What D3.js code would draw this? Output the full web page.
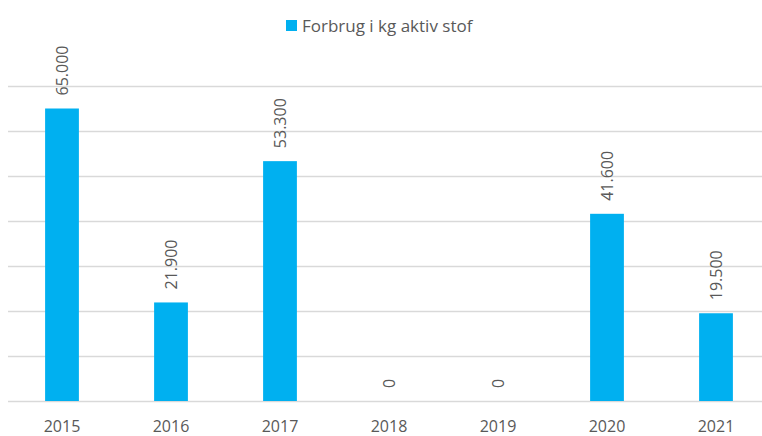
<!DOCTYPE html>
<html>
<head>
<meta charset="utf-8">
<script src="https://cdn.jsdelivr.net/npm/d3@7"></script>
<style>
  html, body { margin: 0; padding: 0; background: #fff; }
  svg { display: block; font-family: "Open Sans", sans-serif; }
</style>
</head>
<body>
<svg id="chart" width="762" height="436"></svg>
<script>
const years = ["2015", "2016", "2017", "2018", "2019", "2020", "2021"];
const values = [65000, 21900, 53300, 0, 0, 41600, 19500];
const valueLabels = ["65.000", "21.900", "53.300", "0", "0", "41.600", "19.500"];
const gridTicks = [0, 10000, 20000, 30000, 40000, 50000, 60000, 70000];
const seriesName = "Forbrug i kg aktiv stof";

const svg = d3.select("#chart");
const W = 762, H = 436;
const barColor = "#00B0F0";
const textColor = "#595959";

const x = d3.scaleBand().domain(years).range([7.5, 770.5]).paddingInner(0.69).paddingOuter(0.345);
const y = d3.scaleLinear().domain([0, 70000]).range([401, 86]);

// gridlines
svg.append("g").selectAll("line").data(gridTicks).join("line")
  .attr("x1", 8).attr("x2", W)
  .attr("y1", d => Math.round(y(d)) + 0.5).attr("y2", d => Math.round(y(d)) + 0.5)
  .attr("stroke", "#d9d9d9").attr("stroke-width", 1.5);

// bars
svg.append("g").selectAll("rect").data(years).join("rect")
  .attr("x", d => x(d))
  .attr("width", x.bandwidth())
  .attr("y", (d, i) => y(values[i]))
  .attr("height", (d, i) => y(0) - y(values[i]))
  .attr("fill", barColor);

// value labels
svg.append("g").selectAll("text").data(years).join("text")
  .attr("transform", (d, i) => `translate(${x(d) + x.bandwidth() / 2},${y(values[i]) - 13}) rotate(-90)`)
  .attr("dy", "0.35em")
  .attr("text-anchor", "start")
  .attr("font-size", 16)
  .attr("fill", textColor)
  .text((d, i) => valueLabels[i]);

// x axis labels
const xAxis = d3.axisBottom(x).tickSize(0).tickPadding(0);
const gx = svg.append("g").attr("transform", "translate(0,401)").call(xAxis)
  .attr("font-size", 16).attr("font-family", "Open Sans, sans-serif");
gx.select(".domain").remove();
gx.selectAll("text")
  .attr("y", 31).attr("dy", 0)
  .attr("fill", textColor);

// legend
const lg = svg.append("g");
lg.append("rect").attr("x", 286).attr("y", 20).attr("width", 11).attr("height", 11).attr("fill", barColor);
lg.append("text").attr("x", 302).attr("y", 32).attr("font-size", 17).attr("fill", textColor).text(seriesName);
</script>
</body>
</html>
